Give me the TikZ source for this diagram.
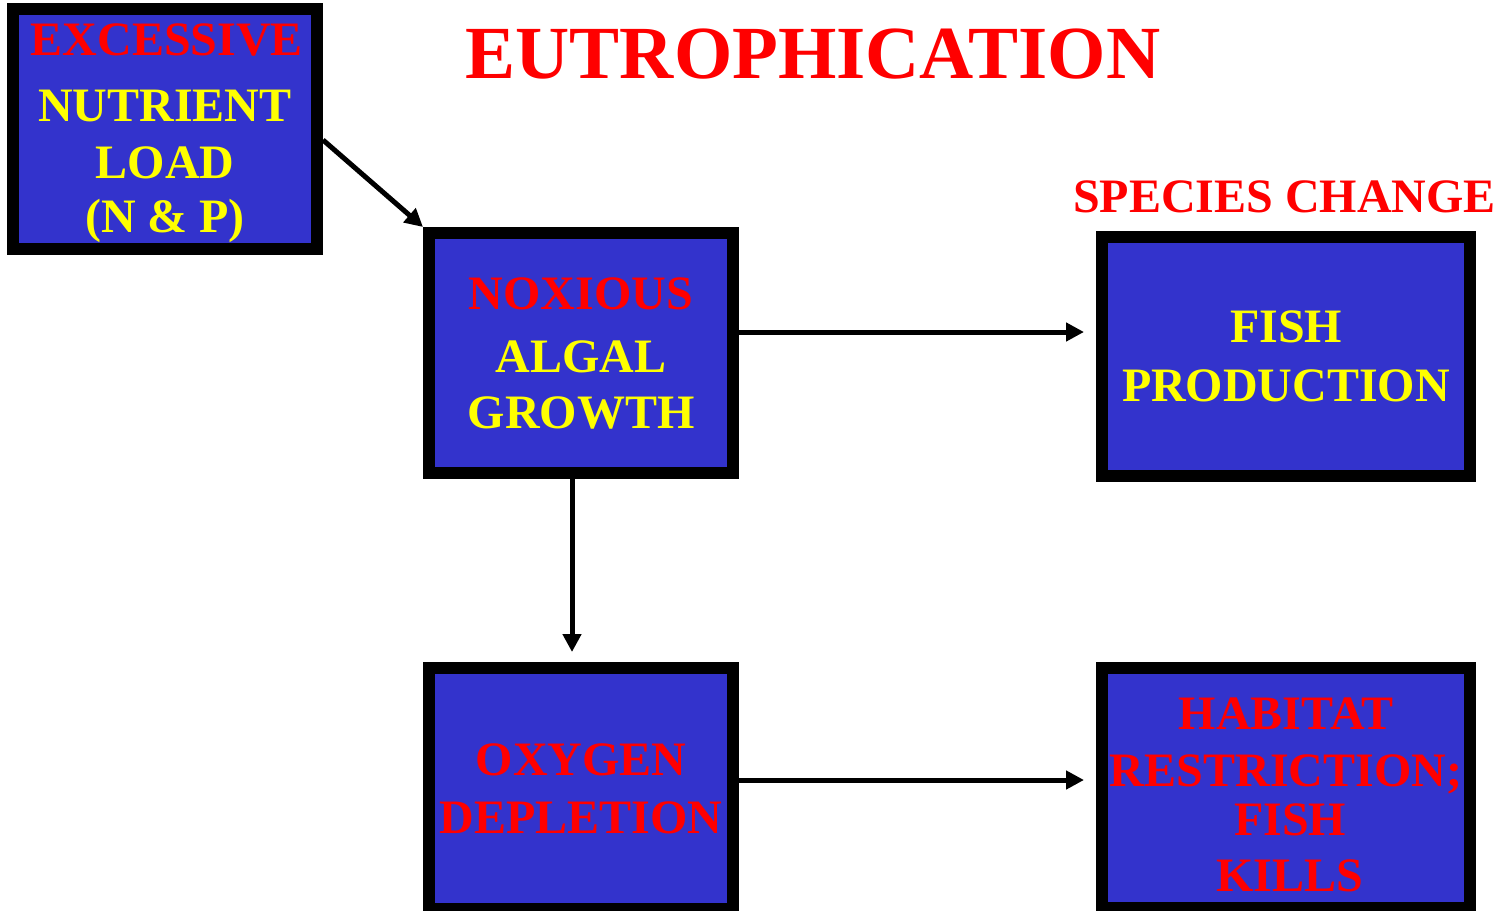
\documentclass[tikz,border=0pt]{standalone}
\usepackage{fontspec}
\setmainfont{Liberation Serif}
\usetikzlibrary{arrows.meta}
\definecolor{boxblue}{RGB}{51,51,204}
\definecolor{txtred}{RGB}{255,0,0}
\definecolor{txtyel}{RGB}{255,255,0}
\tikzset{
  flowbox/.style={draw=black, fill=boxblue, line width=12pt, rectangle, inner sep=0pt,
    align=center, font=\bfseries\fontsize{48}{57}\selectfont},
  arr/.style={line width=5pt, -{Triangle[length=18pt,width=18pt]}},
  heading/.style={text=txtred, font=\bfseries\fontsize{48}{57}\selectfont, inner sep=0pt, anchor=base},
  bigtitle/.style={text=txtred, font=\bfseries\fontsize{75}{80}\selectfont, inner sep=0pt, anchor=base}
}
\begin{document}
\begin{tikzpicture}[x=1pt,y=-1pt]
\useasboundingbox (0,0) rectangle (1503,910);
\begin{scope}
\clip (0,0) rectangle (1503,910);
\node[flowbox, minimum width=304pt, minimum height=240pt] (b1) at (165,129)
  {\rule{0pt}{41pt}\textcolor{txtred}{\hspace*{4pt}EXCESSIVE}\\[9pt]\textcolor{txtyel}{NUTRIENT}\\\textcolor{txtyel}{LOAD}\\[-3pt]\textcolor{txtyel}{(N \& P)}};
\node[flowbox, minimum width=304pt, minimum height=240pt] (b2) at (581,353)
  {\textcolor{txtred}{NOXIOUS}\\[6pt]\textcolor{txtyel}{ALGAL}\\[-1pt]\textcolor{txtyel}{GROWTH}};
\node[flowbox, minimum width=368pt, minimum height=239pt] (b3) at (1286,356.5)
  {\textcolor{txtyel}{FISH}\\[2pt]\textcolor{txtyel}{PRODUCTION}};
\node[flowbox, minimum width=304pt, minimum height=241pt] (b4) at (581,788.5)
  {\textcolor{txtred}{OXYGEN}\\[1pt]\textcolor{txtred}{DEPLETION}};
\node[flowbox, minimum width=368pt, minimum height=240pt] (b5) at (1286,788)
  {\rule{0pt}{46pt}\textcolor{txtred}{HABITAT}\\\textcolor{txtred}{RESTRICTION;}\\[-8pt]\textcolor{txtred}{\hspace*{8pt}FISH}\\[-1pt]\textcolor{txtred}{\hspace*{8pt}KILLS}};
\end{scope}
\node[bigtitle] (title) at (813,78) {EUTROPHICATION};
\node[heading] (species) at (1284.5,212) {SPECIES CHANGE};
\draw[arr] ([yshift=-11pt]b1.east) -- (b2.north west);
\draw[arr] ([yshift=21pt]b2.east) -- ([xshift=-12pt,yshift=24.5pt]b3.west);
\draw[arr] ([xshift=-9pt]b2.south) -- ([xshift=-9pt,yshift=10pt]b4.north);
\draw[arr] ([yshift=8.5pt]b4.east) -- ([xshift=-12pt,yshift=8pt]b5.west);
\end{tikzpicture}
\end{document}
